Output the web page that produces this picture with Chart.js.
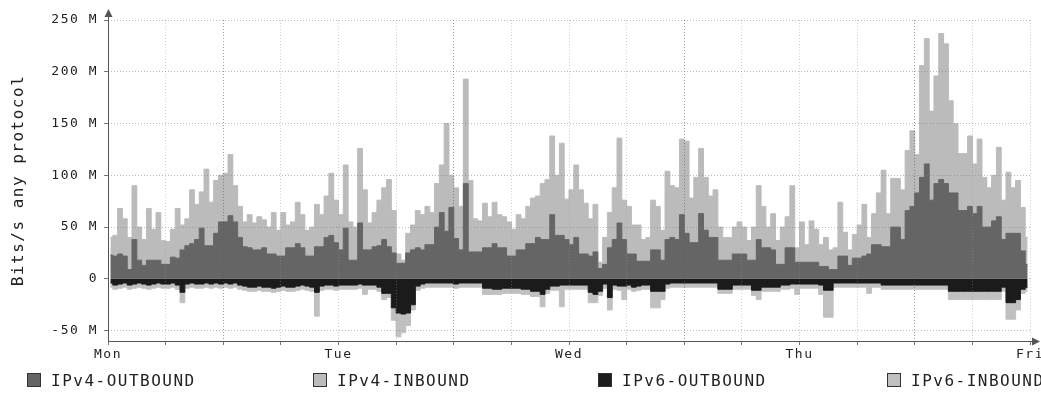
<!DOCTYPE html>
<html>
<head>
<meta charset="utf-8">
<script src="https://cdn.jsdelivr.net/npm/chart.js@4.4.1/dist/chart.umd.min.js"></script>
<style>
  html, body { margin: 0; padding: 0; background: #fff; }
  #wrap { position: relative; width: 1041px; height: 396px; overflow: hidden; }
  .leg { position: absolute; top: 373px; font: 16px "DejaVu Sans Mono", monospace; letter-spacing: 1.5px; color: #222; line-height: 16px; white-space: nowrap; }
  .leg span { display: inline-block; width: 12px; height: 12px; border: 1px solid #333; vertical-align: -1px; margin-right: 10px; }
</style>
</head>
<body>
<div id="wrap">
  <canvas id="traffic" width="1041" height="396"></canvas>
</div>
<script>
// Values in M bits/s, one per half hour from Mon 00:00 to Fri 00:00
var days = ['Mon', 'Tue', 'Wed', 'Thu', 'Fri'];
var seriesNames = ['IPv4-OUTBOUND', 'IPv4-INBOUND', 'IPv6-OUTBOUND', 'IPv6-INBOUND'];
var yTicks = [-50, 0, 50, 100, 150, 200, 250];

var ipv4Out = [
  23, 22, 24, 22, 9, 38, 18, 13, 18, 18,
  18, 14, 14, 21, 20, 28, 32, 34, 38, 49,
  32, 32, 44, 55, 55, 61, 55, 40, 31, 30,
  28, 28, 30, 24, 24, 22, 22, 30, 30, 34,
  30, 22, 22, 31, 31, 40, 42, 35, 28, 49,
  18, 18, 54, 28, 28, 31, 32, 38, 31, 25,
  15, 15, 25, 28, 30, 28, 33, 33, 50, 64,
  46, 69, 39, 28, 92, 26, 26, 26, 30, 30,
  34, 30, 30, 22, 22, 28, 28, 34, 34, 40,
  38, 38, 62, 42, 42, 38, 33, 40, 24, 24,
  22, 26, 10, 14, 30, 38, 54, 38, 24, 24,
  17, 17, 17, 28, 28, 18, 38, 40, 38, 62,
  44, 35, 35, 63, 47, 40, 40, 18, 18, 18,
  24, 24, 24, 18, 18, 38, 30, 30, 28, 14,
  14, 30, 30, 16, 16, 16, 16, 16, 12, 12,
  9, 9, 22, 22, 13, 20, 20, 22, 24, 33,
  33, 31, 31, 50, 50, 38, 66, 70, 83, 98,
  111, 76, 92, 96, 92, 83, 83, 66, 66, 70,
  63, 70, 50, 50, 56, 60, 38, 44, 44, 44,
  27, 14
];
var ipv4In = [
  40, 42, 68, 58, 40, 90, 50, 38, 68, 48,
  64, 37, 36, 48, 68, 52, 58, 86, 72, 84,
  106, 74, 95, 100, 102, 120, 90, 70, 55, 62,
  54, 60, 57, 50, 64, 47, 64, 52, 55, 74,
  62, 47, 50, 72, 62, 80, 102, 76, 62, 110,
  55, 50, 126, 86, 54, 64, 76, 88, 96, 66,
  24, 18, 44, 52, 66, 62, 70, 64, 92, 110,
  150, 100, 88, 70, 193, 95, 58, 56, 73, 60,
  74, 62, 60, 55, 48, 62, 58, 70, 78, 80,
  92, 96, 138, 100, 131, 77, 86, 110, 86, 73,
  58, 72, 16, 40, 64, 88, 136, 76, 70, 52,
  52, 38, 40, 76, 70, 47, 104, 90, 88, 135,
  133, 78, 98, 126, 98, 80, 86, 50, 40, 40,
  50, 55, 50, 37, 50, 90, 70, 50, 63, 37,
  50, 60, 90, 30, 55, 33, 56, 48, 33, 40,
  28, 30, 74, 45, 28, 43, 52, 72, 40, 63,
  83, 105, 63, 97, 97, 86, 124, 143, 120, 206,
  232, 162, 196, 237, 227, 172, 150, 121, 121, 138,
  111, 135, 98, 88, 100, 127, 76, 103, 88, 95,
  69, 40
];
var ipv6Out = [
  -4, -6, -5, -4, -6, -5, -4, -5, -6, -5,
  -4, -5, -5, -4, -6, -13, -5, -4, -5, -5,
  -4, -5, -4, -5, -4, -5, -4, -6, -7, -8,
  -8, -7, -8, -8, -9, -8, -7, -8, -8, -7,
  -6, -7, -8, -13, -7, -6, -6, -7, -6, -6,
  -6, -6, -5, -6, -6, -6, -8, -14, -14, -28,
  -33, -34, -33, -25, -7, -5, -4, -4, -4, -4,
  -4, -4, -5, -4, -4, -4, -4, -4, -9, -9,
  -10, -10, -9, -9, -9, -9, -10, -10, -12, -12,
  -15, -10, -7, -7, -6, -6, -6, -6, -6, -6,
  -13, -15, -12, -5, -18, -6, -7, -7, -6, -8,
  -7, -6, -6, -12, -12, -12, -5, -4, -4, -4,
  -4, -4, -4, -4, -4, -4, -4, -10, -10, -10,
  -6, -6, -6, -6, -11, -11, -8, -8, -8, -8,
  -6, -6, -5, -5, -5, -5, -5, -5, -6, -11,
  -11, -4, -4, -4, -4, -4, -4, -4, -4, -4,
  -4, -6, -6, -6, -6, -6, -6, -6, -6, -6,
  -6, -6, -6, -6, -6, -12, -12, -12, -12, -12,
  -12, -12, -12, -12, -12, -12, -8, -23, -23, -20,
  -10, -8
];
var ipv6In = [
  -8, -10, -9, -8, -10, -9, -8, -9, -10, -9,
  -8, -9, -9, -8, -10, -23, -9, -8, -9, -9,
  -8, -9, -8, -9, -8, -9, -8, -10, -11, -12,
  -12, -11, -12, -12, -13, -12, -11, -12, -12, -11,
  -10, -11, -12, -36, -11, -10, -10, -11, -10, -10,
  -10, -10, -9, -15, -10, -10, -12, -20, -18, -40,
  -56, -52, -45, -30, -11, -9, -8, -8, -8, -8,
  -8, -8, -9, -8, -8, -8, -8, -8, -15, -15,
  -15, -15, -14, -14, -14, -14, -15, -15, -17, -17,
  -27, -14, -11, -11, -27, -10, -10, -10, -10, -10,
  -23, -23, -16, -9, -30, -10, -11, -20, -10, -12,
  -11, -10, -10, -28, -28, -20, -9, -8, -8, -8,
  -8, -8, -8, -8, -8, -8, -8, -14, -14, -14,
  -10, -10, -10, -10, -16, -20, -12, -12, -12, -12,
  -10, -10, -9, -15, -9, -9, -9, -9, -15, -37,
  -37, -8, -8, -8, -8, -8, -8, -8, -14, -8,
  -8, -10, -10, -10, -10, -10, -10, -10, -10, -10,
  -10, -10, -10, -10, -10, -20, -20, -20, -20, -20,
  -20, -20, -20, -20, -20, -20, -12, -39, -39, -30,
  -14, -12
];

var colors = ['#656565', '#bbbbbb', '#1b1b1b', '#c0c0c0'];

// hours since Monday 00:00 (middle of each half-hour slot)
var hours = ipv4Out.map(function (v, i) { return i * 0.5 + 0.25; });

function toPoints(values) {
  return values.map(function (v, i) { return { x: hours[i], y: v }; });
}

function makeSet(idx, values, order) {
  return {
    label: seriesNames[idx],
    data: toPoints(values),
    backgroundColor: colors[idx],
    borderColor: colors[idx],
    borderWidth: 1,
    pointRadius: 0,
    stepped: 'middle',
    fill: 'origin',
    order: order
  };
}

// solid axis lines with arrow heads, like the rrd graph
var axisArrows = {
  id: 'axisArrows',
  beforeDraw: function (chart) {
    chart.ctx.letterSpacing = '1.5px';
  },
  afterDraw: function (chart) {
    var ctx = chart.ctx, a = chart.chartArea;
    var x0 = Math.round(a.left) + 0.5, y0 = Math.round(a.bottom) + 0.5;
    ctx.save();
    ctx.strokeStyle = '#555';
    ctx.fillStyle = '#555';
    ctx.lineWidth = 1;
    ctx.beginPath();
    ctx.moveTo(x0, y0);
    ctx.lineTo(x0, a.top - 8);
    ctx.moveTo(x0, y0);
    ctx.lineTo(a.right + 6, y0);
    ctx.stroke();
    ctx.beginPath();
    ctx.moveTo(x0, a.top - 11);
    ctx.lineTo(x0 - 4, a.top - 3);
    ctx.lineTo(x0 + 4, a.top - 3);
    ctx.fill();
    ctx.beginPath();
    ctx.moveTo(a.right + 10, y0);
    ctx.lineTo(a.right + 2, y0 - 4);
    ctx.lineTo(a.right + 2, y0 + 4);
    ctx.fill();
    ctx.restore();
  }
};

Chart.defaults.font.family = "'DejaVu Sans Mono', monospace";
Chart.defaults.color = '#333';

new Chart(document.getElementById('traffic').getContext('2d'), {
  type: 'line',
  data: {
    datasets: [
      makeSet(0, ipv4Out, 1),
      makeSet(1, ipv4In, 2),
      makeSet(2, ipv6Out, 1),
      makeSet(3, ipv6In, 2)
    ]
  },
  options: {
    responsive: false,
    animation: false,
    devicePixelRatio: 1,
    events: [],
    layout: { padding: { top: 20, right: 11, left: 0, bottom: 0 } },
    plugins: { legend: { display: false }, tooltip: { enabled: false } },
    scales: {
      x: {
        type: 'linear',
        min: 0,
        max: 96,
        afterBuildTicks: function (scale) {
          var t = [];
          for (var h = 0; h <= 96; h += 6) t.push({ value: h });
          scale.ticks = t;
        },
        afterFit: function (scale) {
          scale.height = 55;
          scale.paddingLeft = 0;
          scale.paddingRight = 0;
        },
        ticks: {
          autoSkip: false,
          maxRotation: 0,
          padding: 2,
          font: { size: 13 },
          color: '#222',
          callback: function (v) { return v % 24 === 0 ? days[v / 24] : ''; }
        },
        grid: {
          z: 1,
          tickLength: 4,
          color: function (c) { return c.tick && c.tick.value % 24 === 12 ? 'rgba(90,90,90,0.6)' : 'rgba(150,150,150,0.45)'; },
          tickColor: '#777'
        },
        border: { display: false, dash: [1, 2] }
      },
      y: {
        min: -60,
        max: 250,
        afterBuildTicks: function (scale) {
          scale.ticks = yTicks.map(function (v) { return { value: v }; });
        },
        afterFit: function (scale) { scale.width = 108; },
        ticks: {
          padding: 6,
          font: { size: 13 },
          color: '#222',
          callback: function (v) { return v === 0 ? '0' : v + ' M'; }
        },
        grid: {
          z: 1,
          tickLength: 4,
          color: 'rgba(120,120,120,0.5)',
          tickColor: '#777'
        },
        border: { display: false, dash: [1, 2] },
        title: {
          display: true,
          text: 'Bits/s any protocol',
          font: { size: 16 },
          color: '#222',
          padding: { top: 9, bottom: 0 }
        }
      }
    }
  },
  plugins: [axisArrows]
});

// legend row under the plot
var legendLeft = [27, 313, 598, 887];
var wrap = document.getElementById('wrap');
seriesNames.forEach(function (name, i) {
  var d = document.createElement('div');
  d.className = 'leg';
  d.style.left = legendLeft[i] + 'px';
  var box = document.createElement('span');
  box.style.background = colors[i];
  d.appendChild(box);
  d.appendChild(document.createTextNode(name));
  wrap.appendChild(d);
});
</script>
</body>
</html>
